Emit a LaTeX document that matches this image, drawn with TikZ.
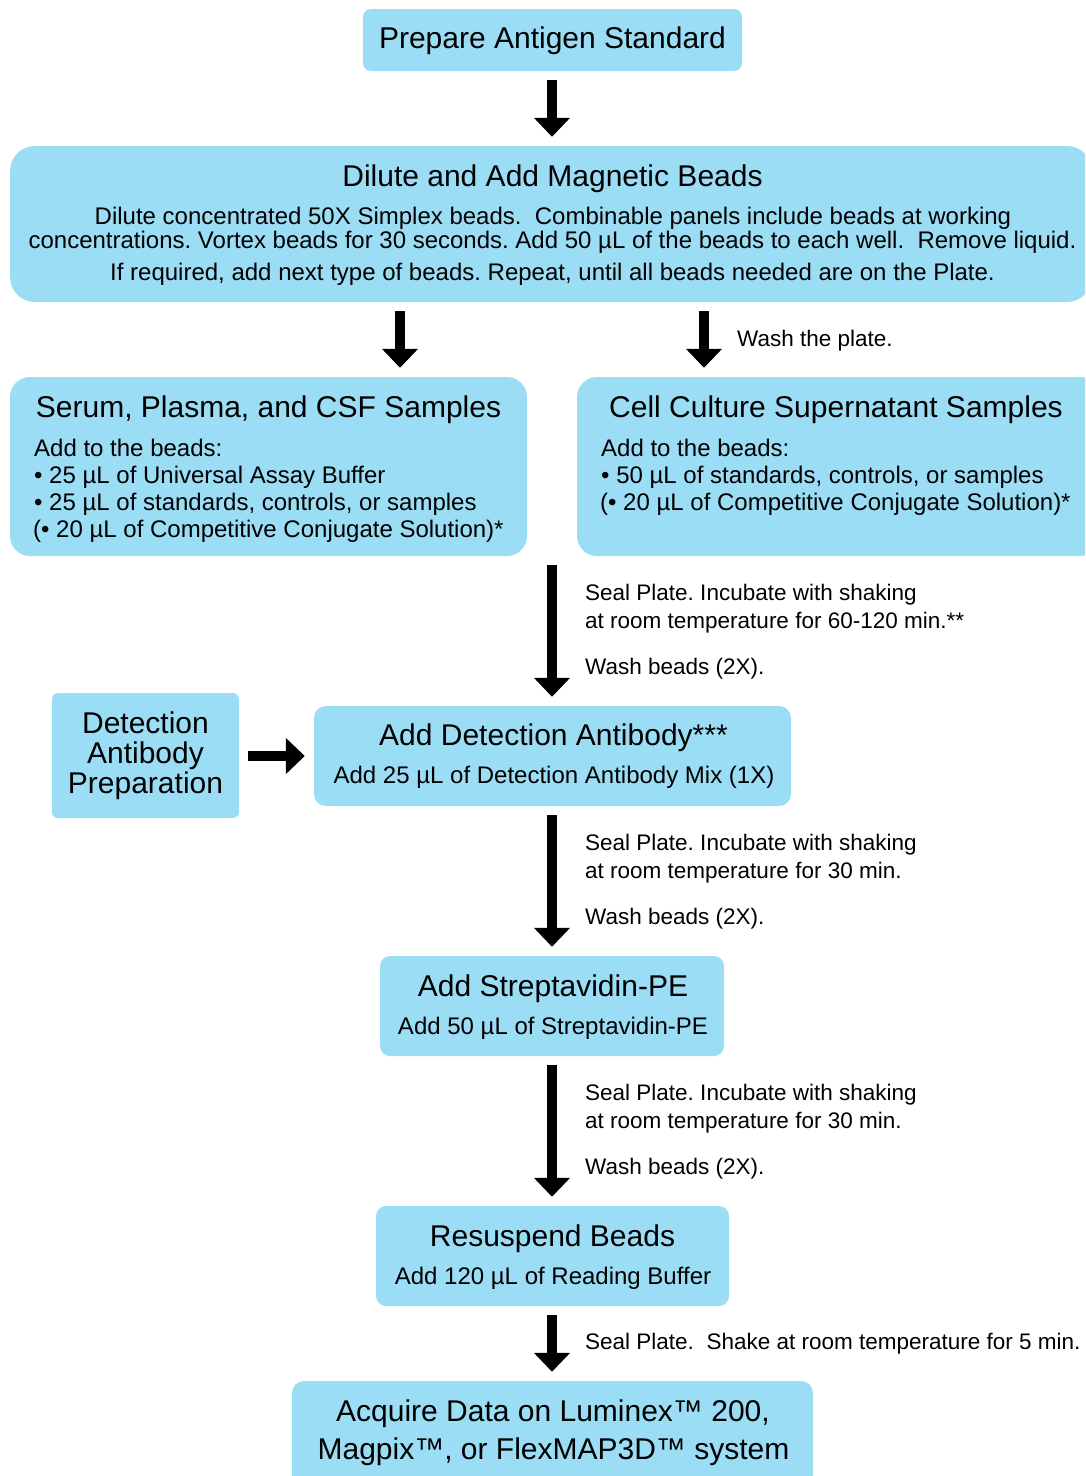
\documentclass[tikz,border=0pt]{standalone}
\usepackage{fontspec}
\setmainfont{Liberation Sans}
\usetikzlibrary{arrows.meta}
\definecolor{boxblue}{RGB}{155,221,245}
\frenchspacing
\begin{document}
\begin{tikzpicture}[x=1pt,y=-1pt,
  box/.style={fill=boxblue,draw=none,inner sep=0pt},
  big/.style={font=\fontsize{30}{30}\selectfont},
  body/.style={font=\fontsize{24}{24}\selectfont},
  lab/.style={font=\fontsize{22.5}{22.5}\selectfont,anchor=base west,inner sep=0pt},
  txt/.style={inner sep=0pt,anchor=base},
  bigarrow/.style={line width=10pt,-{Triangle[width=35pt,length=19pt]},shorten >=9pt,shorten <=9pt}]
\useasboundingbox (0,0) rectangle (1085,1476);
\clip (0,0) rectangle (1085,1476);
% boxes
\node[box,rounded corners=8pt,minimum width=379pt,minimum height=62pt] (b1) at (552.5,40) {};
\node[box,rounded corners=25pt,minimum width=1082pt,minimum height=156pt] (dil) at (551,224) {};
\node[box,rounded corners=20pt,minimum width=517pt,minimum height=179pt] (serum) at (268.5,466.5) {};
\node[box,rounded corners=20pt,minimum width=523pt,minimum height=179pt] (cell) at (838.5,466.5) {};
\node[box,rounded corners=6pt,minimum width=187pt,minimum height=125pt] (prep) at (145.5,755.5) {};
\node[box,rounded corners=12pt,minimum width=477pt,minimum height=100pt] (det) at (552.5,756) {};
\node[box,rounded corners=10pt,minimum width=344pt,minimum height=100pt] (strep) at (552,1006) {};
\node[box,rounded corners=10pt,minimum width=353pt,minimum height=100pt] (resus) at (552.5,1256) {};
\node[box,rounded corners=12pt,minimum width=521pt,minimum height=109pt] (acq) at (552.5,1435.5) {};
% texts
\node[txt,big] (t1) at (552.5,48) {Prepare Antigen Standard};
\node[txt,big] (t2) at (552.5,186.5) {Dilute and Add Magnetic Beads};
\node[txt,body] (t2a) at (553,224) {Dilute concentrated 50X Simplex beads.\ \ Combinable panels include beads at working};
\node[txt,body] (t2b) at (552.5,248) {concentrations. Vortex beads for 30 seconds. Add 50 µL of the beads to each well.\ \ Remove liquid.};
\node[txt,body] (t2c) at (552.5,280.5) {If required, add next type of beads. Repeat, until all beads needed are on the Plate.};
\node[txt,big] (t3) at (268.5,417.5) {Serum, Plasma, and CSF Samples};
\node[txt,body,anchor=base west] (t3a) at (34,456) {Add to the beads:};
\node[txt,body,anchor=base west] (t3b) at (34,483) {• 25 µL of Universal Assay Buffer};
\node[txt,body,anchor=base west] (t3c) at (34,510) {• 25 µL of standards, controls, or samples};
\node[txt,body,anchor=base west] (t3d) at (33,537) {(• 20 µL of Competitive Conjugate Solution)*};
\node[txt,big] (t4) at (836,417.5) {Cell Culture Supernatant Samples};
\node[txt,body,anchor=base west] (t4a) at (601,456) {Add to the beads:};
\node[txt,body,anchor=base west] (t4b) at (601,483) {• 50 µL of standards, controls, or samples};
\node[txt,body,anchor=base west] (t4c) at (600,510) {(• 20 µL of Competitive Conjugate Solution)*};
\node[txt,big] (t5a) at (145.5,733.5) {Detection};
\node[txt,big] (t5b) at (145.5,763.5) {Antibody};
\node[txt,big] (t5c) at (145.5,793.5) {Preparation};
\node[txt,big] (t6) at (553.5,745) {Add Detection Antibody***};
\node[txt,body] (t6a) at (554,783) {Add 25 µL of Detection Antibody Mix (1X)};
\node[txt,big] (t7) at (553,996) {Add Streptavidin-PE};
\node[txt,body] (t7a) at (553,1034) {Add 50 µL of Streptavidin-PE};
\node[txt,big] (t8) at (552.5,1246) {Resuspend Beads};
\node[txt,body] (t8a) at (553,1284) {Add 120 µL of Reading Buffer};
\node[txt,big] (t9a) at (553,1421.5) {Acquire Data on Luminex™ 200,};
\node[txt,big] (t9b) at (553.5,1459.5) {Magpix™, or FlexMAP3D™ system};
% labels
\node[lab] (w1) at (737,346) {Wash the plate.};
\node[lab] (l1a) at (585,600) {Seal Plate. Incubate with shaking};
\node[lab] (l1b) at (585,628) {at room temperature for 60-120 min.**};
\node[lab] (l1c) at (585,674) {Wash beads (2X).};
\node[lab] (l2a) at (585,850) {Seal Plate. Incubate with shaking};
\node[lab] (l2b) at (585,878) {at room temperature for 30 min.};
\node[lab] (l2c) at (585,924) {Wash beads (2X).};
\node[lab] (l3a) at (585,1100) {Seal Plate. Incubate with shaking};
\node[lab] (l3b) at (585,1128) {at room temperature for 30 min.};
\node[lab] (l3c) at (585,1174) {Wash beads (2X).};
\node[lab] (l4) at (585,1349) {Seal Plate.\ \ Shake at room temperature for 5 min.};
% arrows
\coordinate (c1) at (552,71);
\coordinate (c2) at (400,302);
\coordinate (c3) at (704,302);
\coordinate (c4) at (552,556);
\draw[bigarrow] (c1) -- (c1 |- dil.north);
\draw[bigarrow] (c2) -- (c2 |- serum.north);
\draw[bigarrow] (c3) -- (c3 |- cell.north);
\draw[bigarrow] (c4) -- (c4 |- det.north);
\draw[bigarrow] (prep.east |- det.west) -- (det.west);
\draw[bigarrow] (c4 |- det.south) -- (c4 |- strep.north);
\draw[bigarrow] (c4 |- strep.south) -- (c4 |- resus.north);
\draw[bigarrow] (c4 |- resus.south) -- (c4 |- acq.north);
\end{tikzpicture}
\end{document}
